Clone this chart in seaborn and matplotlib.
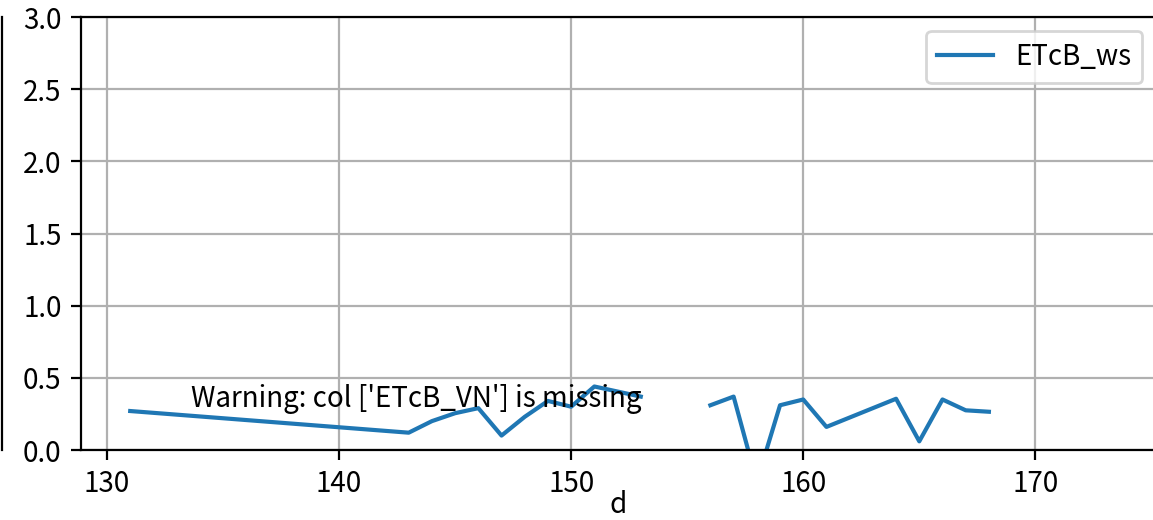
import numpy as np
import pandas as pd
import matplotlib
matplotlib.use("Agg")
import matplotlib.pyplot as plt
import seaborn as sns

plt.rcParams['font.family'] = ['Noto Sans CJK SC', 'DejaVu Sans']
plt.rcParams['axes.unicode_minus'] = False

# ---- data ----
d_values = [131, 143, 144, 145, 146, 147, 148, 149, 150, 151, 153, 154, 155,
            156, 157, 158, 159, 160, 161, 164, 165, 166, 167, 168]
etcb_ws = [0.27, 0.12, 0.20, 0.255, 0.29, 0.10, 0.23, 0.34, 0.30, 0.44, 0.37,
           np.nan, np.nan, 0.31, 0.37, -0.22, 0.31, 0.35, 0.16, 0.355, 0.06,
           0.35, 0.275, 0.265]
series_name = "ETcB_ws"
x_ticks = [130, 140, 150, 160, 170]
y_ticks = [0.0, 0.5, 1.0, 1.5, 2.0, 2.5, 3.0]
warning_text = "Warning: col ['ETcB_VN'] is missing"

df = pd.DataFrame({"d": d_values, "v": etcb_ws})

W, H, DPI = 1153, 520, 200
fig = plt.figure(figsize=(W / DPI, H / DPI), dpi=DPI)

# neighbouring (cut-off) panel: only its right spine is visible
ax0 = fig.add_axes([-0.5, 1 - 450 / H, 0.5 + 1.5 / W, (450 - 17) / H])
ax0.set_xticks([]); ax0.set_yticks([])
for s in ["top", "left", "bottom"]:
    ax0.spines[s].set_visible(False)

ax = fig.add_axes([81 / W, 1 - 450 / H, (1156 - 81) / W, (450 - 17) / H])

# split into segments on NaN so the gaps are kept
seg_id = df["v"].isna().cumsum()
first = True
for _, seg in df[df["v"].notna()].groupby(seg_id[df["v"].notna()]):
    sns.lineplot(data=seg, x="d", y="v", ax=ax, color="#1f77b4", linewidth=1.5,
                 estimator=None, sort=False,
                 label=series_name if first else None, legend=first)
    first = False

ax.set_xlim(128.88, 175.2)
ax.set_ylim(0, 3.0)
ax.set_xticks(x_ticks)
ax.set_yticks(y_ticks)
ax.set_yticklabels([f"{t:.1f}" for t in y_ticks])
ax.set_xlabel("d")
ax.xaxis.label.set_va("center")
ax.xaxis.set_label_coords(0.5, -55 / 433)
ax.set_ylabel("")
ax.grid(True, color="#b0b0b0", linewidth=0.8)
ax.set_axisbelow(True)

ax.text(0.102, 0.118, warning_text, transform=ax.transAxes, ha="left", va="center",
        fontsize=10)

ax.legend(loc="upper right", handletextpad=0.8)

fig.savefig("out.png", dpi=DPI)
